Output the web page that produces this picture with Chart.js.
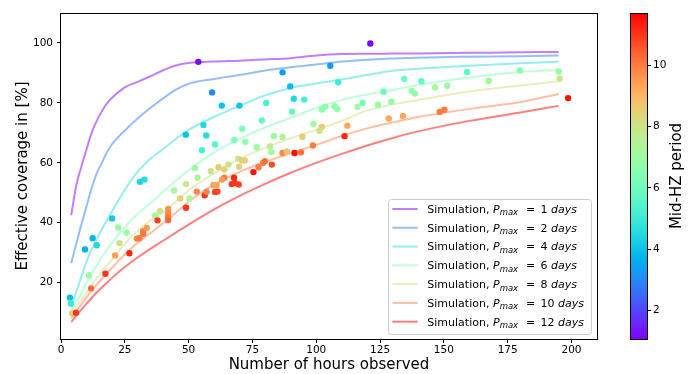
<!DOCTYPE html>
<html><head><meta charset="utf-8">
<script src="https://cdn.jsdelivr.net/npm/chart.js@4.4.1/dist/chart.umd.min.js"></script>
<style>html,body{margin:0;padding:0;background:#fff;}#wrap{width:697px;height:374px;}</style>
</head><body><div id="wrap"><canvas id="c" width="697" height="374"></canvas></div>
<script>
// ---------- data ----------
const simHours = [4,6,8,10,12,14,16,18,20,25,30,35,40,45,50,60,70,80,90,100,110,120,130,140,160,180,195];
const simP1  = [42.5,52.5,58.8,64.5,70,74,77.2,79.8,81.7,85.2,87,88.9,90.9,92.5,93.3,93.8,94.1,94.5,94.9,95.8,96.3,96.4,96.45,96.5,96.7,96.9,97.0];
const simP2  = [26.5,33,39.5,45.5,51.5,56.5,60,63.5,66.2,70.8,74.8,78.3,81.5,84.4,86.4,88,89.3,90.8,91.9,92.8,93.8,94.4,94.8,95.1,95.4,95.6,95.8];
const simP4  = [12,17,22,27,31,34.5,37.8,40.8,43.8,51,57,61.3,64.6,68,71,75.3,79,82.5,85,86.5,87.8,89.3,90.7,91.4,92.4,93.2,93.7];
const simP6  = [10.5,13.5,16.5,20,23,25.8,28.5,31,33.3,38.5,43,46.5,50.3,54,57.5,63.5,68,71.8,75,78.3,81,82.8,84.3,86,88.5,90.3,91];
const simP8  = [9,11.8,14.3,16.8,19.3,21.6,23.8,25.8,27.8,33,37.3,40.8,43.5,47,50.8,56.5,61.3,65,68.2,71,74,77.5,79.5,81,83.8,85.8,87.2];
const simP10 = [8,10.5,12.8,15.2,17.3,19.3,21.3,23.2,25,29.4,33.3,36.5,39.8,43.3,47,52.8,57,60.3,63.2,66,69,71.5,73.5,75.3,78,80.3,83];
const simP12 = [6.8,9,11,13,14.9,16.7,18.4,20,21.6,25.2,28.4,31.3,34,36.7,39.4,44.5,49,53,56.7,60,63,65.8,68.3,70.5,74,76.8,79];
const pmaxValues = [1,2,4,6,8,10,12];

const obsHours = [3.5,3.9,4.4,5.9,9.4,12.4,14.0,11.0,11.8,17.4,20.0,22.4,25.7,22.9,21.2,26.8,29.7,30.7,32.2,32.2,33.6,31.0,32.7,36.9,38.8,37.8,42.0,42.0,42.0,42.0,44.3,46.7,50.3,49.0,49.0,53.2,56.3,57.0,59.7,61.0,60.4,61.3,66.9,68.0,69.6,67.8,64.0,63.1,52.5,53.5,58.7,61.7,64.0,65.6,69.5,69.8,71.0,72.0,48.9,55.8,56.9,55.2,60.4,71.0,67.9,72.2,53.8,59.2,63.0,69.9,80.4,78.7,76.7,75.4,77.4,79.2,79.9,82.6,81.9,82.4,83.4,86.8,86.8,88.5,91.5,94.0,94.6,86.8,89.8,91.2,95.3,90.5,105.5,108.6,121.2,98.9,102.2,101.3,98.7,102.2,103.5,107.2,108.2,116.2,118.2,124.2,129.4,126.4,112.2,111.1,128.4,134.0,134.5,141.2,159.1,179.8,137.4,138.7,146.6,151.3,167.6,148.4,150.2,195.0,195.4,198.7];
const obsCoverage = [15.0,13.0,9.8,10.0,31.1,34.8,32.5,22.5,18.1,23.0,41.4,38.4,36.7,33.2,29.1,29.8,34.7,34.8,36.3,37.2,38.3,53.7,54.4,42.4,43.9,40.8,44.6,43.2,41.9,40.9,50.8,48.1,48.1,45.0,52.9,50.4,49.2,50.3,52.6,52.6,50.3,50.4,52.9,53.3,52.8,55.0,55.0,54.4,58.3,55.0,57.2,58.5,57.8,59.4,61.4,58.7,60.8,60.8,69.4,72.6,69.1,64.2,66.1,71.4,67.6,67.0,93.7,83.5,79.1,79.1,80.0,74.1,65.2,56.9,58.5,60.0,60.5,59.4,65.5,63.6,68.9,68.6,63.3,63.8,63.3,63.5,68.7,90.2,85.5,81.4,81.1,77.1,92.4,86.9,99.8,73.0,72.0,70.6,65.8,77.8,78.7,78.9,78.0,78.7,80.0,79.4,80.4,83.7,72.4,68.9,74.8,75.6,88.0,87.2,90.3,90.8,84.0,83.1,85.2,85.7,87.3,77.0,77.7,90.5,88.1,81.6];
const obsPeriod = [4.0,5.0,8.5,11.0,3.7,3.8,4.5,7.0,10.2,11.0,4.2,6.8,6.9,7.9,9.4,11.2,9.8,10.0,10.1,10.0,9.5,4.4,4.6,7.2,8.0,10.9,9.6,9.8,10.0,10.3,7.2,8.4,7.4,11.0,7.8,9.8,11.0,9.9,9.3,9.3,10.8,10.8,11.0,11.0,10.9,11.2,10.0,9.5,7.0,7.3,8.0,8.5,8.4,8.0,8.0,8.3,8.5,8.5,4.0,4.5,4.6,5.3,5.6,6.3,6.3,6.6,1.2,3.0,4.0,4.1,5.3,5.8,7.0,11.5,10.0,10.0,10.1,10.7,7.8,7.2,7.0,7.5,9.8,8.8,11.5,10.2,8.5,3.3,3.9,4.5,5.2,5.8,3.3,5.0,1.1,7.0,8.5,8.0,10.0,6.5,6.6,6.6,6.8,7.0,6.2,7.0,6.8,6.0,9.3,11.2,9.3,9.3,6.0,5.8,5.7,6.5,6.8,6.9,7.2,7.0,7.2,10.0,10.0,6.8,7.8,11.5];

const xTicks = [0,25,50,75,100,125,150,175,200];
const yTicks = [20,40,60,80,100];
const cbTicks = [2,4,6,8,10];
const cbMin = 1.08, cbMax = 11.7;

// ---------- styling helpers ----------
const FONT = "'DejaVu Sans', sans-serif";
Chart.defaults.font.family = FONT;
Chart.defaults.color = '#000';
function rainbow(t){
  t = Math.min(1, Math.max(0, t));
  const r = Math.min(1, Math.abs(2*t - 0.5)), g = Math.sin(Math.PI*t), b = Math.cos(Math.PI*t/2);
  return [r,g,b].map(v => Math.round(255*Math.max(0,Math.min(1,v))));
}
const rgba = (c,a) => `rgba(${c[0]},${c[1]},${c[2]},${a})`;
const lineColor = i => rgba(rainbow(i/6), 0.5);
const periodColor = p => rgba(rainbow((p-cbMin)/(cbMax-cbMin)), 1);

const simSeries = [simP1, simP2, simP4, simP6, simP8, simP10, simP12];
const datasets = simSeries.map((ser,i) => ({
  label: 'Simulation, Pmax = ' + pmaxValues[i] + ' days',
  data: simHours.map((h,j) => ({x:h, y:ser[j]})),
  showLine: true, borderColor: lineColor(i), borderWidth: 2,
  pointRadius: 0, fill: false, cubicInterpolationMode: 'monotone', order: 1
}));
datasets.push({
  label: 'observed',
  data: obsHours.map((h,i) => ({x:h, y:obsCoverage[i]})),
  showLine: false, pointRadius: 3.2, pointBorderWidth: 0,
  pointBackgroundColor: obsPeriod.map(periodColor), order: 0
});

const tickGrid = {display:true, drawOnChartArea:false, drawTicks:true, tickLength:4, color:'#000', tickWidth:1};

const framePlugin = {
  id: 'frameLegendColorbar',
  afterDatasetsDraw(chart){
    const ctx = chart.ctx, a = chart.chartArea;
    ctx.save();
    ctx.strokeStyle = '#000'; ctx.lineWidth = 1;
    ctx.strokeRect(Math.round(a.left)-0.5, Math.round(a.top)+0.5, Math.round(a.right-a.left)+1, Math.round(a.bottom-a.top));
    // legend
    const bx1 = a.right - 6, by1 = a.bottom - 5, bx0 = bx1 - 203, by0 = by1 - 135;
    ctx.beginPath();
    if (ctx.roundRect) ctx.roundRect(bx0+0.5, by0+0.5, bx1-bx0, by1-by0, 3); else ctx.rect(bx0+0.5, by0+0.5, bx1-bx0, by1-by0);
    ctx.fillStyle = 'rgba(255,255,255,0.8)'; ctx.fill();
    ctx.strokeStyle = '#cccccc'; ctx.stroke();
    pmaxValues.forEach((p,i) => {
      const y = by0 + 10 + i*18.78;
      ctx.strokeStyle = lineColor(i); ctx.lineWidth = 2;
      ctx.beginPath(); ctx.moveTo(bx0+4.3, y); ctx.lineTo(bx0+29.7, y); ctx.stroke();
      const yb = y + 3.9;
      ctx.fillStyle = '#000'; ctx.textBaseline = 'alphabetic'; ctx.textAlign = 'left';
      ctx.font = `11px ${FONT}`;
      ctx.fillText('Simulation,', bx0+39.3, yb);
      let x = bx0 + 105;
      ctx.font = `italic 11px ${FONT}`;
      ctx.fillText('P', x, yb);
      x += ctx.measureText('P').width;
      ctx.font = `italic 8.5px ${FONT}`;
      ctx.fillText('max', x, yb + 2.5);
      ctx.font = `11px ${FONT}`;
      ctx.fillText('=', bx0+138, yb);
      x = bx0 + 152.5;
      const num = String(p);
      ctx.fillText(num, x, yb);
      x += ctx.measureText(num).width + 3.5;
      ctx.font = `italic 11px ${FONT}`;
      ctx.fillText('days', x, yb);
    });
    ctx.restore();
  },
  afterDraw(chart){
    const ctx = chart.ctx, cb = chart.scales.cb;
    const yTop = cb.getPixelForValue(cbMax), yBot = cb.getPixelForValue(cbMin);
    const x1 = cb.left, x0 = x1 - 17;
    ctx.save();
    const g = ctx.createLinearGradient(0, yBot, 0, yTop);
    for (let k=0;k<=64;k++){ const t=k/64; g.addColorStop(t, rgba(rainbow(t),1)); }
    ctx.fillStyle = g;
    ctx.fillRect(x0, yTop, x1-x0, yBot-yTop);
    ctx.strokeStyle = '#000'; ctx.lineWidth = 1;
    ctx.strokeRect(Math.round(x0)+0.5, Math.round(yTop)+0.5, Math.round(x1-x0), Math.round(yBot-yTop));
    ctx.translate(x1 + 30, (yTop+yBot)/2);
    ctx.rotate(-Math.PI/2);
    ctx.fillStyle = '#000'; ctx.textAlign = 'center'; ctx.textBaseline = 'middle';
    ctx.font = `15px ${FONT}`;
    ctx.fillText('Mid-HZ period', 0, 0);
    ctx.restore();
  }
};

new Chart(document.getElementById('c'), {
  type: 'scatter',
  data: { datasets },
  plugins: [framePlugin],
  options: {
    responsive: false, animation: false, devicePixelRatio: 1,
    layout: { padding: { top: 13, left: 0, right: 0, bottom: 0 } },
    plugins: { legend: {display:false}, tooltip: {enabled:false} },
    scales: {
      x: {
        type: 'linear', position: 'bottom', min: 0, max: 210,
        afterBuildTicks: s => { s.ticks = xTicks.map(v => ({value:v})); },
        ticks: { font: {size: 10.5}, padding: 1, maxRotation: 0, autoSkip: false, color: '#000' },
        grid: tickGrid, border: {display:false},
        title: { display: true, text: 'Number of hours observed', font: {size: 15}, padding: {top:0, bottom:0}, color: '#000' },
        afterFit: s => { s.height = 35; }
      },
      y: {
        type: 'linear', position: 'left', min: 1.2, max: 110,
        afterBuildTicks: s => { s.ticks = yTicks.map(v => ({value:v})); },
        ticks: { font: {size: 10.5}, padding: 4, autoSkip: false, color: '#000' },
        grid: tickGrid, border: {display:false},
        title: { display: true, text: 'Effective coverage in [%]', font: {size: 15}, padding: {top: 14, bottom: 0}, color: '#000' },
        afterFit: s => { s.width = 61; }
      },
      gap: {
        type: 'linear', position: 'right', weight: 0, min: 0, max: 1, display: true,
        ticks: {display:false}, grid: {display:false}, border: {display:false},
        afterFit: s => { s.width = 50; }
      },
      cb: {
        type: 'linear', position: 'right', weight: 1, min: cbMin, max: cbMax,
        afterBuildTicks: s => { s.ticks = cbTicks.map(v => ({value:v})); },
        ticks: { font: {size: 10.5}, padding: 2, autoSkip: false, color: '#000' },
        grid: tickGrid, border: {display:false},
        afterFit: s => { s.width = 50; }
      }
    }
  }
});
</script>
</body></html>
